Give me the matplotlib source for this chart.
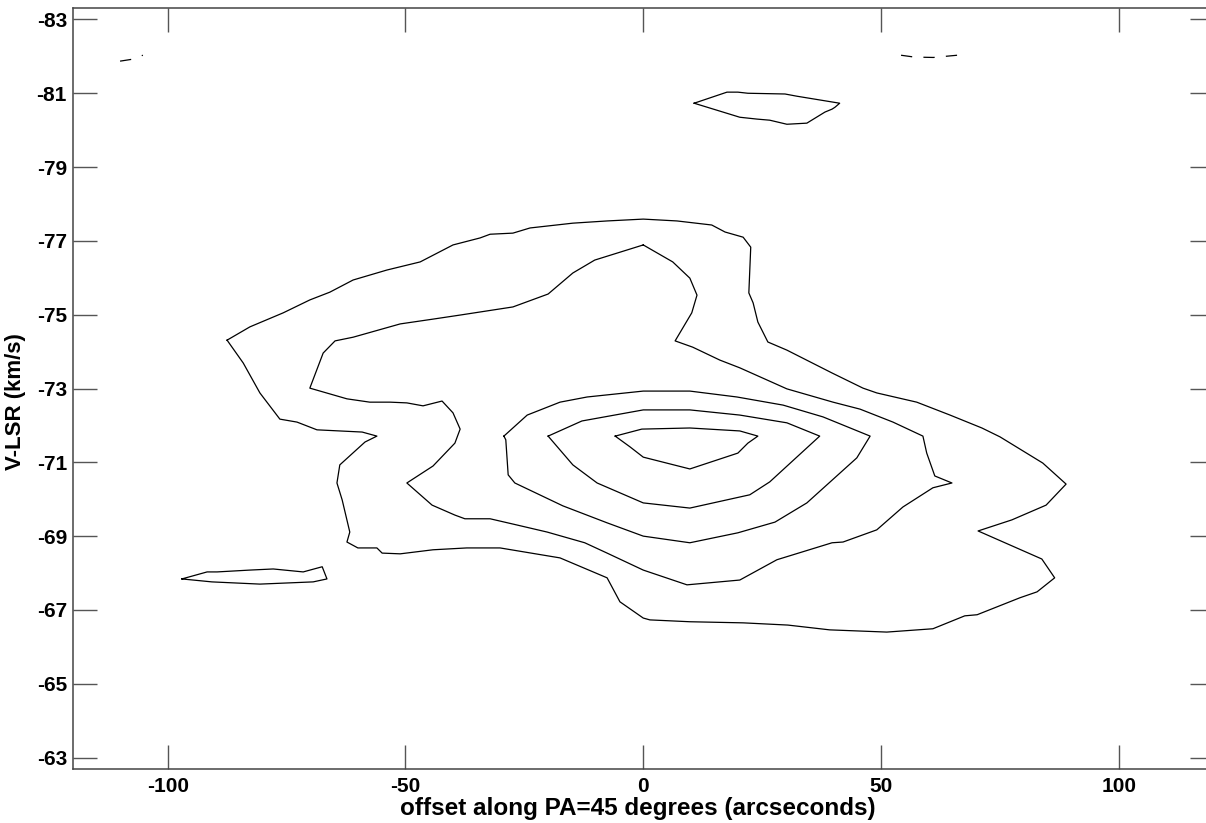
"""Position-velocity contour map along PA=45 degrees."""

import matplotlib

matplotlib.use("Agg")
import matplotlib.pyplot as plt
import numpy as np

plt.rcParams["font.family"] = ["Liberation Sans", "DejaVu Sans"]
plt.rcParams["font.weight"] = "bold"

# ---------------------------------------------------------------------------
# Contour paths: (offset [arcsec], V-LSR [km/s])
# ---------------------------------------------------------------------------
outer = [
    (-87.5, -74.31), (-82.7, -74.67), (-75.7, -75.05), (-70.1, -75.40),
    (-65.9, -75.61), (-61.0, -75.94), (-53.9, -76.21), (-46.9, -76.43),
    (-40.0, -76.89), (-34.3, -77.08), (-32.2, -77.18), (-27.4, -77.21),
    (-23.8, -77.35), (-14.8, -77.48), (-7.6, -77.54), (0.0, -77.59),
    (7.1, -77.54), (14.4, -77.43), (17.2, -77.24), (21.0, -77.10),
    (22.6, -76.83), (22.2, -75.59), (23.1, -75.32), (24.1, -74.80),
    (26.2, -74.26), (30.2, -74.04), (39.7, -73.42), (46.2, -73.01),
    (49.1, -72.88), (57.5, -72.63), (64.5, -72.28), (71.2, -71.93),
    (75.0, -71.69), (84.0, -70.98), (88.9, -70.41), (84.7, -69.84),
    (77.5, -69.44), (70.4, -69.14), (83.8, -68.38), (86.5, -67.87),
    (82.8, -67.49), (79.2, -67.33), (70.2, -66.87), (67.6, -66.84),
    (60.9, -66.49), (51.2, -66.40), (39.2, -66.46), (30.4, -66.59),
    (21.0, -66.65), (9.8, -66.68), (1.4, -66.73), (0.0, -66.78),
    (-4.9, -67.22), (-7.6, -67.87), (-17.5, -68.41), (-30.1, -68.68),
    (-37.1, -68.68), (-44.2, -68.63), (-51.1, -68.52), (-54.9, -68.54),
    (-56.0, -68.68), (-60.0, -68.68), (-62.3, -68.84), (-61.7, -69.11),
    (-63.3, -69.98), (-64.4, -70.44), (-63.8, -70.93), (-58.5, -71.55),
    (-56.0, -71.71), (-59.1, -71.82), (-68.6, -71.88), (-69.6, -71.93),
    (-72.8, -72.09), (-76.4, -72.17), (-80.6, -72.88), (-84.1, -73.69),
]

second = [
    (0.0, -76.89), (6.2, -76.43), (9.8, -75.99), (11.3, -75.53),
    (10.2, -75.05), (6.7, -74.29), (10.4, -74.12), (16.1, -73.77),
    (20.3, -73.56), (30.2, -72.99), (39.9, -72.63), (45.6, -72.44),
    (52.5, -72.09), (58.8, -71.71), (59.6, -71.25), (61.3, -70.63),
    (64.9, -70.44), (60.9, -70.31), (54.6, -69.79), (49.1, -69.17),
    (42.0, -68.84), (39.7, -68.82), (28.1, -68.36), (20.3, -67.81),
    (9.2, -67.68), (0.0, -68.08), (-7.6, -68.54), (-12.3, -68.82),
    (-20.2, -69.11), (-26.5, -69.30), (-32.2, -69.47), (-37.5, -69.47),
    (-39.6, -69.57), (-44.4, -69.84), (-49.7, -70.44), (-44.2, -70.90),
    (-39.6, -71.52), (-38.5, -71.90), (-40.0, -72.34), (-42.3, -72.66),
    (-46.3, -72.53), (-49.7, -72.61), (-53.2, -72.63), (-57.5, -72.63),
    (-62.3, -72.72), (-70.1, -73.01), (-67.3, -73.96), (-64.8, -74.29),
    (-61.0, -74.39), (-51.1, -74.75), (-44.2, -74.88), (-38.5, -74.99),
    (-27.4, -75.21), (-20.0, -75.56), (-14.8, -76.13), (-10.2, -76.48),
]

third = [
    (-29.3, -71.71), (-24.4, -72.28), (-17.5, -72.63), (-11.8, -72.77),
    (0.0, -72.93), (9.8, -72.93), (19.7, -72.77), (29.4, -72.55),
    (37.8, -72.23), (47.7, -71.71), (44.9, -71.12), (34.4, -69.90),
    (27.7, -69.38), (19.9, -69.09), (9.8, -68.82), (0.0, -69.00),
    (-7.6, -69.36), (-16.9, -69.82), (-27.0, -70.44), (-28.4, -70.66),
    (-28.9, -71.61),
]

fourth = [
    (-20.0, -71.71), (-12.9, -72.12), (0.0, -72.42), (9.8, -72.42),
    (20.3, -72.28), (30.2, -72.07), (37.1, -71.71), (26.6, -70.47),
    (22.4, -70.12), (9.8, -69.76), (0.0, -69.90), (-9.7, -70.44),
    (-14.8, -70.93),
]

peak = [
    (-5.9, -71.71), (-0.3, -71.90), (9.8, -71.93), (20.3, -71.85),
    (24.1, -71.71), (22.0, -71.52), (19.9, -71.25), (9.8, -70.82),
    (0.0, -71.14), (-2.8, -71.42),
]

blob_low = [
    (-97.0, -67.84), (-91.7, -68.03), (-89.6, -68.03), (-82.7, -68.08),
    (-77.8, -68.11), (-71.5, -68.03), (-67.5, -68.17), (-66.5, -67.84),
    (-69.4, -67.76), (-80.6, -67.70), (-90.7, -67.76),
]

blob_high = [
    (10.7, -80.73), (17.6, -81.03), (19.9, -81.03), (22.0, -81.00),
    (29.8, -80.98), (32.3, -80.92), (41.3, -80.73), (40.3, -80.62),
    (39.7, -80.57), (38.2, -80.49), (34.4, -80.19), (30.2, -80.16),
    (26.6, -80.27), (23.9, -80.30), (20.3, -80.35),
]

# negative-level (dashed) fragments near the top edge
neg_left = [(-110.0, -81.87), (-107.5, -81.92), (-105.2, -82.03)]
neg_right = [(54.2, -82.03), (57.0, -81.98), (61.0, -81.97), (66.0, -82.03)]

closed_paths = [outer, second, third, fourth, peak, blob_low, blob_high]
open_paths = [neg_left, neg_right]

x_ticks = [-100, -50, 0, 50, 100]
y_ticks = [-83, -81, -79, -77, -75, -73, -71, -69, -67, -65, -63]

# ---------------------------------------------------------------------------
# Plot
# ---------------------------------------------------------------------------
fig = plt.figure(figsize=(12.06, 8.23), dpi=100)
# right spine sits just outside the canvas, as in the original
ax = fig.add_axes([72.5 / 1206, 54 / 823, (1214 - 72.5) / 1206, 761 / 823])

for path in closed_paths:
    pts = np.array(path + [path[0]])
    ax.plot(pts[:, 0], pts[:, 1], color="black", lw=0.9)

for path in open_paths:
    pts = np.array(path)
    ax.plot(pts[:, 0], pts[:, 1], color="black", lw=0.9, dashes=(9, 9))

ax.set_xlim(-120, 120)
ax.set_ylim(-62.69, -83.31)
ax.set_xticks(x_ticks)
ax.set_yticks(y_ticks)
ax.set_xticklabels([str(v) for v in x_ticks])
ax.set_yticklabels([str(v) for v in y_ticks])

ax.tick_params(
    which="both", direction="in", top=True, right=True,
    length=17.5, width=1.0, color="#555555", labelsize=15,
)
ax.tick_params(axis="x", pad=6)
ax.tick_params(axis="y", pad=4)
for sp in ax.spines.values():
    sp.set_color("#444444")
    sp.set_linewidth(1.1)

ax.set_xlabel("offset along PA=45 degrees (arcseconds)", fontsize=17.5,
              fontweight="bold")
ax.set_ylabel("V-LSR (km/s)", fontsize=16, fontweight="bold")
ax.xaxis.set_label_coords(0.4955, -0.037)
ax.yaxis.set_label_coords(-0.0405, 0.483)

fig.savefig("out.png", dpi=100)
